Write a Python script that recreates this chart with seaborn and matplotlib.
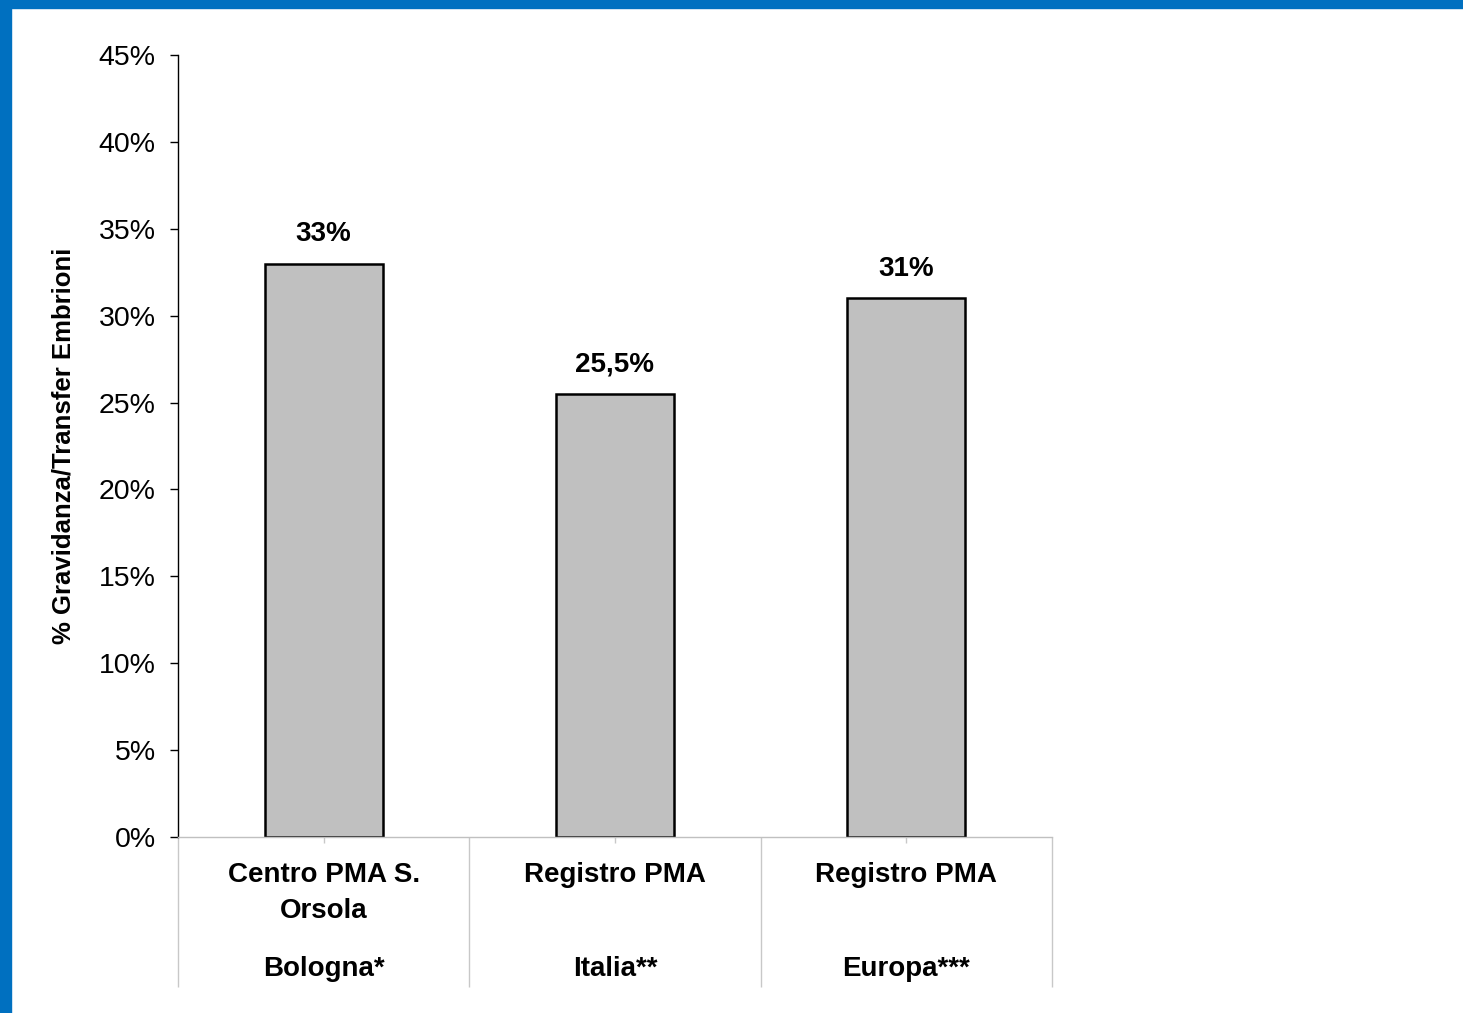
import matplotlib
matplotlib.use("Agg")
import matplotlib.pyplot as plt
import matplotlib.transforms as mtransforms
from matplotlib.patches import Rectangle
from matplotlib.ticker import PercentFormatter, FixedLocator
import seaborn as sns

# Pregnancy rate per embryo transfer (%)
categories = ["Centro PMA S.\nOrsola", "Registro PMA", "Registro PMA"]
places = ["Bologna*", "Italia**", "Europa***"]
values = [33.0, 25.5, 31.0]
y_ticks = [0, 5, 10, 15, 20, 25, 30, 35, 40, 45]

sns.set_style("white")
plt.rcParams["font.family"] = ["Liberation Sans", "DejaVu Sans"]
plt.rcParams["text.color"] = "black"
plt.rcParams["axes.labelcolor"] = "black"
plt.rcParams["xtick.labelcolor"] = "black"
plt.rcParams["ytick.labelcolor"] = "black"

fig = plt.figure(figsize=(14.63, 10.13), dpi=100)
ax = fig.add_axes([0.1217, 0.1737, 0.5973, 0.7720])

sns.barplot(x=list(range(len(values))), y=values, color="#C0C0C0",
            edgecolor="black", linewidth=1.8, width=0.405, saturation=1,
            ax=ax)

ax.set_xlim(-0.5, len(values) - 0.5)
ax.set_ylim(0, 45)
ax.set_yticks(y_ticks)
ax.yaxis.set_major_formatter(PercentFormatter(decimals=0))
ax.tick_params(axis="y", which="major", left=True, direction="out",
               length=6, width=1, color="black", labelcolor="black",
               pad=10, labelsize=20.5)

# category boundaries as long grey ticks, centre ticks carry the labels
ax.xaxis.set_major_locator(FixedLocator([i - 0.5 for i in range(len(values) + 1)]))
ax.xaxis.set_minor_locator(FixedLocator(list(range(len(values)))))
ax.set_xticklabels([""] * (len(values) + 1))
ax.set_xticklabels(categories, minor=True, fontweight="bold", fontsize=20,
                   linespacing=1.5, color="black")
ax.tick_params(axis="x", which="major", bottom=True, direction="out",
               length=108, width=1, color="#C8C8C8")
ax.tick_params(axis="x", which="minor", bottom=True, direction="out",
               length=4.5, width=1, color="#C8C8C8", pad=13.5)

for side in ("top", "right"):
    ax.spines[side].set_visible(False)
ax.spines["left"].set_color("black")
ax.spines["left"].set_linewidth(1)
ax.spines["bottom"].set_color("#C0C0C0")
ax.spines["bottom"].set_linewidth(1)

ax.set_xlabel("")
ax.set_ylabel("% Gravidanza/Transfer Embrioni", fontsize=18.5,
              fontweight="bold", labelpad=17)

# second line of each category label
trans = mtransforms.blended_transform_factory(ax.transData, ax.transAxes)
for i, p in enumerate(places):
    ax.text(i, -0.169, p, transform=trans, ha="center", va="center",
            fontsize=20, fontweight="bold")

# value labels above the bars
for i, v in enumerate(values):
    label = f"{v:g}".replace(".", ",") + "%"
    ax.annotate(label, xy=(i, v), xytext=(0, 16), textcoords="offset points",
                ha="center", va="baseline", fontsize=20, fontweight="bold")

# blue frame along the top and left edges
fig.patches.append(Rectangle((0, 1 - 8 / 1013), 1, 8 / 1013,
                             transform=fig.transFigure, color="#0070C0",
                             zorder=10))
fig.patches.append(Rectangle((0, 0), 11 / 1463, 1,
                             transform=fig.transFigure, color="#0070C0",
                             zorder=10))

fig.savefig("out.png", dpi=100)
